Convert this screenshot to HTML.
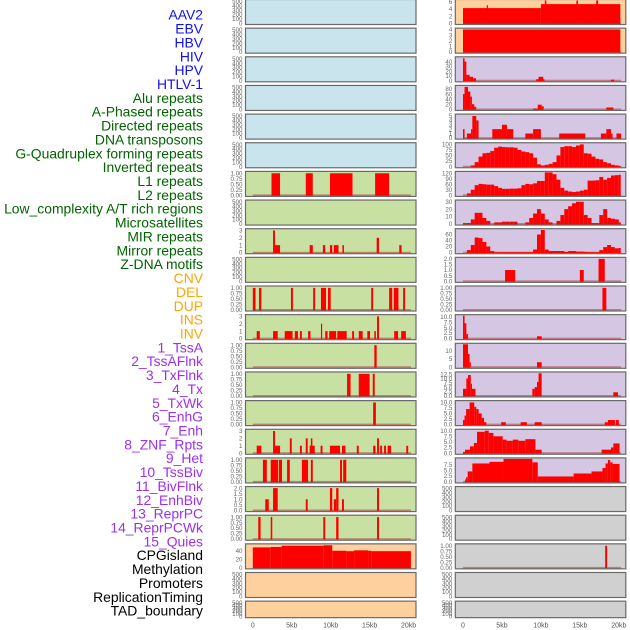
<!DOCTYPE html>
<html><head><meta charset="utf-8">
<style>
html,body{margin:0;padding:0;background:#fff;width:630px;height:630px;overflow:hidden}
svg{display:block}
text{font-family:"Liberation Sans",sans-serif}
</style></head>
<body>
<svg id="chart" width="630" height="630" viewBox="0 0 630 630" xmlns="http://www.w3.org/2000/svg"></svg>
<script>
// ---------- DATA ----------
const labelNames = ["AAV2","EBV","HBV","HIV","HPV","HTLV-1","Alu repeats","A-Phased repeats","Directed repeats","DNA transposons","G-Quadruplex forming repeats","Inverted repeats","L1 repeats","L2 repeats","Low_complexity A/T rich regions","Microsatellites","MIR repeats","Mirror repeats","Z-DNA motifs","CNV","DEL","DUP","INS","INV","1_TssA","2_TssAFlnk","3_TxFlnk","4_Tx","5_TxWk","6_EnhG","7_Enh","8_ZNF_Rpts","9_Het","10_TssBiv","11_BivFlnk","12_EnhBiv","13_ReprPC","14_ReprPCWk","15_Quies","CPGisland","Methylation","Promoters","ReplicationTiming","TAD_boundary"];
const labelGroups = [0,0,0,0,0,0,1,1,1,1,1,1,1,1,1,1,1,1,1,2,2,2,2,2,3,3,3,3,3,3,3,3,3,3,3,3,3,3,3,4,4,4,4,4];
const groupColors = ["#1010ee","#006400","#ffa500","#9b30ee","#000000"];
const panelBg = ["#c9e4ec","#c8e1a2","#fed09e","#d5c6e3","#d0d0d0"];
const xTicks = [0,5,10,15,20];
const xTickLabels = ["0","5kb","10kb","15kb","20kb"];

const tickSets = {
  e:["0","100","200","300","400","500"],
  u:["0.00","0.25","0.50","0.75","1.00"],
  t3:["0","1","2","3"],
  t2:["0.0","0.5","1.0","1.5","2.0"]
};
const tickVals = {
  e:[0,100,200,300,400,500], u:[0,0.25,0.5,0.75,1], t3:[0,1,2,3], t2:[0,0.5,1,1.5,2]
};

const segAlu = [[2.4,3.5,1],[6.8,7.7,1],[9.9,12.8,1],[15.7,17.5,1]];
const segDirected = [[2.6,2.85,3],[2.85,3.5,1],[7.3,7.7,1],[9.0,9.3,1],[9.9,10.2,1],[10.4,11,1],[11.5,11.7,1],[15.9,16.2,2],[18.8,19.1,1]];
const segGQuad = [[0,0.35,1],[0.8,1.1,1],[4.9,5.15,1],[7.75,8.0,1],[8.75,9.4,1],[9.65,10,1],[15.2,15.45,1],[17.5,17.9,1],[18.1,18.7,1],[19.3,19.55,1]];
const segInverted = [[0.5,0.9,1],[2.6,3.2,1],[4.1,5.1,1],[5.4,5.8,1],[6.05,6.3,1],[7.1,7.4,1],[8.75,8.9,2],[9.3,9.6,1],[9.8,10.7,1],[10.85,12.05,1],[12.75,13,1],[13.6,14.1,1],[14.7,15.05,1],[15.6,15.8,1],[15.95,16.2,3],[18.15,18.65,1],[19.05,19.65,1]];
const segL1 = [[15.6,15.9,1]];
const segL2 = [[12.1,12.55,1],[13.6,15.0,1],[15.4,15.65,1]];
const segLowC = [[15.45,15.8,1]];
const segMicro = [[0.5,1.1,1],[2.6,2.85,3],[2.85,3.5,1],[4.75,5.0,2],[6.05,6.3,1],[6.8,7.05,2],[7.3,7.95,1],[7.45,7.65,2],[8.7,8.95,1],[9.9,11.2,1],[11.45,11.9,1],[13.35,13.6,1],[15.45,15.75,1],[15.95,16.2,2],[16.35,16.6,1],[16.85,17.1,1],[17.3,17.75,1],[19.7,19.95,1]];
const segMIR = [[1.3,1.8,1],[2.3,3.25,1],[3.35,3.75,1],[4.4,4.75,1],[6.3,7.1,1],[7.45,7.7,1],[11.2,11.45,1],[11.6,12,1]];
const segMirror = [[1.6,2.05,1],[2.6,3.2,2],[6.8,7.05,1],[9.9,10.2,2],[10.4,10.7,1],[10.7,11,2],[11.45,11.7,1],[15.95,16.2,2]];
const segZDNA = [[0.7,1.0,1],[2.3,2.5,1],[9.05,9.3,1],[10.7,11,1],[15.95,16.2,1]];
const segCNV = [[0,2.3,48],[2.3,3.7,49],[3.7,9.1,52],[9.1,10.2,53],[10.2,12.0,40],[12.0,13.0,39],[13.0,14.8,41],[14.8,15.2,40],[15.2,20.3,39]];
const segINS = [[0,10,4.2],[3.05,3.2,5],[10,20.2,5.3],[10.5,10.7,6.3],[14.55,14.75,6.3],[17.1,17.35,6.3]];
const segINV = [[0,20.2,4]];
const segTssA = [[0,0.2,47],[0.2,0.43,40],[0.43,0.85,12],[0.85,1.3,8],[1.3,1.67,5],[9.4,9.7,3],[9.7,10.3,8],[10.3,10.4,3],[19.0,19.4,2]];
const segTssAFlnk = [[0,0.2,60],[0.2,0.64,88],[0.64,0.94,70],[0.94,1.15,50],[1.15,1.45,20],[1.45,1.7,10],[9,9.6,3],[9.6,10.1,18],[10.1,10.35,12],[18.4,19.3,7]];
const segTxFlnk = [[0,0.2,2],[0.5,1.03,1],[1.03,1.2,2],[1.2,1.7,5],[1.7,2.0,4],[3.76,5.0,2],[5.0,5.64,3],[5.64,6.45,2],[8.0,9.0,1],[9.0,10.0,2],[12.35,15.7,1],[17.7,18.4,1],[18.4,19.0,2],[19.0,19.2,1],[19.7,20.3,1]];
const binTx = [0,0,5,20,45,60,62,70,85,90,88,87,87,85,75,68,65,60,40,10,5,8,12,20,50,88,92,92,88,95,100,60,58,45,35,32,20,15,8,5,2];
const binTxWk = [0,10,30,55,62,60,58,58,50,40,35,35,36,36,38,55,62,60,65,78,78,125,125,115,85,40,25,20,18,20,25,30,80,80,82,100,85,95,108,110,112];
const binEnhG = [1,1,6,15,15,8,4,0,2,2,3,3,3,3,0,0,2,8,14,20,14,6,2,0,4,12,20,24,28,30,30,12,8,1,1,12,20,8,7,6,2];
const binEnh = [0,8,25,50,48,35,20,5,1,1,1,1,1,1,1,1,1,1,10,60,75,10,5,5,5,5,2,5,5,3,3,2,1,1,1,8,18,25,18,14,15];
const segZNF = [[5.4,6.7,1],[15.0,15.5,1],[17.4,18.2,2]];
const segHet = [[17.9,18.4,1]];
const segTssBiv = [[0,0.2,10.5],[0.2,0.43,7],[0.43,0.65,2],[9.5,10.1,1]];
const segBivFlnk = [[0,0.64,14],[0.64,0.85,8],[0.85,1.0,3],[9.5,10.1,3]];
const segEnhBiv = [[0,0.43,4],[0.43,0.64,10],[0.64,1.0,12],[1.0,1.15,7],[1.15,1.6,4],[8.9,9.2,4],[9.2,9.5,5],[9.5,9.7,8],[9.7,10.1,13],[19.3,19.9,2]];
const segReprPC = [[0,0.2,2],[0.2,0.4,4],[0.4,0.85,7],[0.85,1.45,10],[1.45,1.7,8],[1.7,2.0,7],[2.0,2.4,5],[2.4,2.7,3],[2.7,3.0,1],[4.9,5.5,1],[7.4,8.2,1],[9.2,10.1,1],[18.2,18.6,1],[18.6,19.5,2],[19.6,20.0,2]];
const segReprPCWk = [[0,0.26,0.5],[0.26,0.9,1.5],[0.9,1.4,3],[1.4,1.8,4.5],[1.8,2.8,9.5],[2.8,3.3,10],[3.3,3.9,9],[3.9,5.1,7.5],[5.1,5.6,6],[5.6,6.4,5.5],[6.4,7.1,6],[7.1,8.0,5.5],[8.0,9.3,6.2],[9.3,10.1,1.5],[17.8,19.0,1.5],[19.0,19.3,2.5],[19.3,20.1,4.3]];
const segQuies = [[0.26,0.4,1],[0.4,0.6,2],[0.6,1.2,4.5],[1.2,3.4,8],[3.4,5.2,8.7],[5.2,8.9,10],[8.9,9.6,8.5],[9.6,14.2,2.3],[14.2,16.5,3.6],[16.5,17.9,4.5],[17.9,18.3,6],[18.3,18.6,8],[18.6,18.9,9.5],[18.9,19.2,8.5],[19.2,20.1,7.8]];
const segPromoters = [[18.25,18.5,1]];

const tracks = [
 [0,0,0,520,"e",null],[0,1,0,520,"e",null],[0,2,0,520,"e",null],[0,3,0,520,"e",null],[0,4,0,520,"e",null],[0,5,0,520,"e",null],
 [0,6,1,1.04,"u",segAlu],[0,7,1,520,"e",null],[0,8,1,3.1,"t3",segDirected],[0,9,1,520,"e",null],
 [0,10,1,1.04,"u",segGQuad],[0,11,1,3.1,"t3",segInverted],[0,12,1,1.04,"u",segL1],[0,13,1,1.04,"u",segL2],
 [0,14,1,1.04,"u",segLowC],[0,15,1,3.1,"t3",segMicro],[0,16,1,1.04,"u",segMIR],[0,17,1,2.05,"t2",segMirror],
 [0,18,1,1.04,"u",segZDNA],[0,19,2,54,[["0",0],["20",20],["40",40]],segCNV],[0,20,2,520,"e",null],[0,21,2,520,"e",null],
 [1,0,2,6.3,[["0",0],["2",2],["4",4],["6",6]],segINS],[1,1,2,4.05,[["0",0],["1",1],["2",2],["3",3],["4",4]],segINV],
 [1,2,3,48,[["0",0],["10",10],["20",20],["30",30],["40",40]],segTssA],
 [1,3,3,90,[["0",0],["20",20],["40",40],["60",60],["80",80]],segTssAFlnk],
 [1,4,3,5.2,[["0",0],["1",1],["2",2],["3",3],["4",4],["5",5]],segTxFlnk],
 [1,5,3,103,[["0",0],["25",25],["50",50],["75",75],["100",100]],binTx,true],
 [1,6,3,125,[["0",0],["30",30],["60",60],["90",90],["120",120]],binTxWk,true],
 [1,7,3,31,[["0",0],["10",10],["20",20],["30",30]],binEnhG,true],
 [1,8,3,76,[["0",0],["20",20],["40",40],["60",60]],binEnh,true],
 [1,9,3,2.05,"t2",segZNF],[1,10,3,1.04,"u",segHet],
 [1,11,3,10.5,[["0.0",0],["2.5",2.5],["5.0",5],["7.5",7.5],["10.0",10]],segTssBiv],
 [1,12,3,14,[["0",0],["5",5],["10",10]],segBivFlnk],
 [1,13,3,13.2,[["0.0",0],["2.5",2.5],["5.0",5],["7.5",7.5],["10.0",10],["12.5",12.5]],segEnhBiv],
 [1,14,3,10.4,[["0.0",0],["2.5",2.5],["5.0",5],["7.5",7.5],["10.0",10]],segReprPC],
 [1,15,3,10.2,[["0.0",0],["2.5",2.5],["5.0",5],["7.5",7.5],["10.0",10]],segReprPCWk],
 [1,16,3,10,[["0.0",0],["2.5",2.5],["5.0",5],["7.5",7.5]],segQuies],
 [1,17,4,520,"e",null],[1,18,4,520,"e",null],[1,19,4,1.04,"u",segPromoters],[1,20,4,520,"e",null],[1,21,4,520,"e",null]
];

// ---------- RENDER ----------
const NS = "http://www.w3.org/2000/svg";
const svg = document.getElementById("chart");
function mk(tag, attrs, parent){const e=document.createElementNS(NS,tag);for(const k in attrs)e.setAttribute(k,attrs[k]);(parent||svg).appendChild(e);return e;}

const colLeft = [245.5, 455.3];
const panelW = 170.5;
const zeroX = [252.8, 463.0];
const pxPerKb = 7.79;
function xScale(col, kb){return zeroX[col] + kb*pxPerKb;}
function rowTop(r){return -0.5 + r*28.65;}
function rowH(r){return r===21 ? 16.5 : 25;}

labelNames.forEach((name,i)=>{
  const t = mk("text",{x:203,y:19.7+i*13.86,"text-anchor":"end","font-size":"13.9",fill:groupColors[labelGroups[i]]});
  t.textContent = name;
  
  
});

tracks.forEach((tr,ti)=>{
  const [col,row,bg,ymax,tk,data,binned] = tr;
  const top = rowTop(row), h = rowH(row), left = colLeft[col];
  const g = mk("g",{});
  
  
  const y0 = top + h - 1.2, y1 = top + 1;
  const yScale = v => y0 - (v/ymax)*(y0-y1);
  mk("rect",{x:left,y:top,width:panelW,height:h,fill:panelBg[bg]},g);
  if(data){
    mk("line",{x1:xScale(col,0),x2:xScale(col,20.3),y1:y0,y2:y0,stroke:"rgba(170,60,60,0.55)","stroke-width":1.6},g);
    let segs = data;
    if(binned){ segs = data.map((v,i)=>[i*0.5, Math.min(i*0.5+0.5,20.25), v]); }
    segs.forEach(s=>{
      if(s[2]<=0) return;
      const x1 = xScale(col,s[0]), x2 = xScale(col,s[1]);
      const yv = Math.max(yScale(s[2]), top);
      const r = mk("rect",{x:x1,y:yv,width:Math.max(x2-x1,1.2),height:y0-yv+0.6,fill:"#ff0000"},g);
      
      
    });
  }
  mk("rect",{x:left,y:top,width:panelW,height:h,fill:"none",stroke:"#6a6a6a","stroke-width":1.2},g);
  let ticks;
  if(typeof tk === "string"){ ticks = tickSets[tk].map((l,i)=>[l,tickVals[tk][i]]); }
  else ticks = tk;
  ticks.forEach(([lab,v])=>{
    const t = mk("text",{x:left-3,y:yScale(v)+2.2,"text-anchor":"end","font-size":"6.2",fill:"#666"},g);
    t.textContent = lab;
    
    
  });
});

[0,1].forEach(col=>{
  xTicks.forEach((v,i)=>{
    const t = mk("text",{x:xScale(col,v),y:627.5,"text-anchor":"middle","font-size":"7",fill:"#555"});
    t.textContent = xTickLabels[i];
    
    
  });
});
</script>
</body></html>
